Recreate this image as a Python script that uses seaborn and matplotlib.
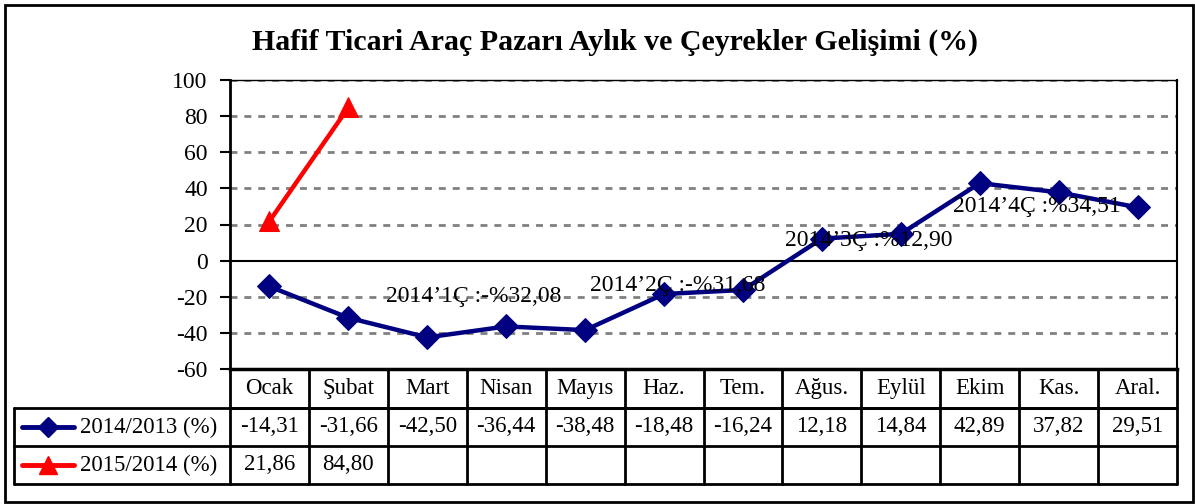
import numpy as np
import matplotlib.pyplot as plt
import seaborn as sns
from matplotlib.lines import Line2D
from matplotlib.patches import Rectangle

sns.set_theme(style="white")
plt.rcParams['font.family'] = ['Liberation Serif', 'DejaVu Serif']
plt.rcParams['axes.unicode_minus'] = False
plt.rcParams['text.color'] = 'black'
plt.rcParams['ytick.color'] = 'black'

# veriler
aylar = ['Ocak', 'Şubat', 'Mart', 'Nisan', 'Mayıs', 'Haz.', 'Tem.',
         'Ağus.', 'Eylül', 'Ekim', 'Kas.', 'Aral.']
seri_2014 = [-14.31, -31.66, -42.50, -36.44, -38.48, -18.48, -16.24,
             12.18, 14.84, 42.89, 37.82, 29.51]
seri_2015 = [21.86, 84.80]
seri_adlari = ['2014/2013 (%)', '2015/2014 (%)']
ceyrek_etiketleri = ['2014’1Ç :-%32,08', '2014’2Ç :-%31,68',
                     '2014’3Ç :%12,90', '2014’4Ç :%34,51']
# etiket konumlari (veri koordinatlari)
ceyrek_konum = [(2.59, -19.6), (5.17, -14.0), (7.59, 11.4), (9.73, 29.7)]

W, H = 1195, 504
fig = plt.figure(figsize=(W / 100, H / 100), dpi=100, facecolor='white')

def fx(px):
    return px / W

def fy(py):
    return 1 - py / H

ax_l, ax_r, ax_t, ax_b = 230, 1177, 80, 369
ax = fig.add_axes([fx(ax_l), fy(ax_b), fx(ax_r - ax_l), fy(ax_t) - fy(ax_b)])

x = np.arange(len(aylar))
sns.lineplot(x=x, y=seri_2014, color='#000080', lw=3.2, marker='D',
             markersize=12, markeredgecolor='#000080', ax=ax)
sns.lineplot(x=x[:len(seri_2015)], y=seri_2015, color='#ff0000', lw=3.2,
             marker='^', markersize=15, markeredgecolor='#ff0000', ax=ax)

ax.set_xlim(-0.5, len(aylar) - 0.5)
ax.set_ylim(-60, 100)
ax.set_yticks(np.arange(-60, 101, 20))
ax.tick_params(axis='y', labelsize=17, length=7, width=1.5, direction='out', left=True,
               pad=9, colors='black')
ax.set_xticks([])
for g in [-40, -20, 20, 40, 60, 80, 100]:
    ax.axhline(g, color='#808080', lw=2, ls=(0, (2.5, 2.5)), zorder=0)
ax.axhline(0, color='black', lw=1.5, zorder=1)
for s in ax.spines.values():
    s.set_color('black')
ax.spines['left'].set_linewidth(2)
ax.spines['bottom'].set_linewidth(2.5)
ax.spines['right'].set_linewidth(1.5)
ax.spines['top'].set_linewidth(1)

for t, (px, py) in zip(ceyrek_etiketleri, ceyrek_konum):
    ax.text(px, py, t, fontsize=17, ha='center', va='center', color='black', zorder=5)

fig.text(fx(615), fy(42), 'Hafif Ticari Araç Pazarı Aylık ve Çeyrekler Gelişimi (%)',
         fontsize=21.5, fontweight='bold', ha='center', va='center')

# tablo
col_w = (ax_r - ax_l) / len(aylar)
rows = [369, 408, 446, 484]
lw_t = 2
def hline(x0, x1, y):
    fig.add_artist(Line2D([fx(x0), fx(x1)], [fy(y), fy(y)], color='black', lw=lw_t))
def vline(xp, y0, y1):
    fig.add_artist(Line2D([fx(xp), fx(xp)], [fy(y0), fy(y1)], color='black', lw=lw_t))

hline(ax_l, ax_r, rows[1])
hline(14, ax_r, rows[1])
hline(14, ax_r, rows[2])
hline(14, ax_r, rows[3])
vline(14, rows[1], rows[3])
for k in range(len(aylar) + 1):
    vline(ax_l + k * col_w, rows[0], rows[3])

fs_t = 16.5
for i, ay in enumerate(aylar):
    cx = ax_l + (i + 0.5) * col_w
    fig.text(fx(cx), fy((rows[0] + rows[1]) / 2), ay, fontsize=fs_t, ha='center', va='center')
    fig.text(fx(cx), fy((rows[1] + rows[2]) / 2), f'{seri_2014[i]:.2f}'.replace('.', ','),
             fontsize=fs_t, ha='center', va='center')
    if i < len(seri_2015):
        fig.text(fx(cx), fy((rows[2] + rows[3]) / 2), f'{seri_2015[i]:.2f}'.replace('.', ','),
                 fontsize=fs_t, ha='center', va='center')

# lejant isaretleri
for j, (renk, mk, ms) in enumerate([('#000080', 'D', 10), ('#ff0000', '^', 13)]):
    yc = (rows[j + 1] + rows[j + 2]) / 2
    fig.add_artist(Line2D([fx(22), fx(74)], [fy(yc), fy(yc)], color=renk, lw=3.5))
    fig.add_artist(Line2D([fx(48)], [fy(yc)], color=renk, marker=mk, markersize=ms,
                          markeredgecolor=renk))
    fig.text(fx(80), fy(yc), seri_adlari[j], fontsize=fs_t, ha='left', va='center')

# dis cerceve
fig.add_artist(Rectangle((fx(5), fy(502)), fx(1188), fy(5) - fy(502), fill=False,
                         edgecolor='black', lw=2, transform=fig.transFigure))

fig.savefig('out.png', dpi=100, facecolor='white')
